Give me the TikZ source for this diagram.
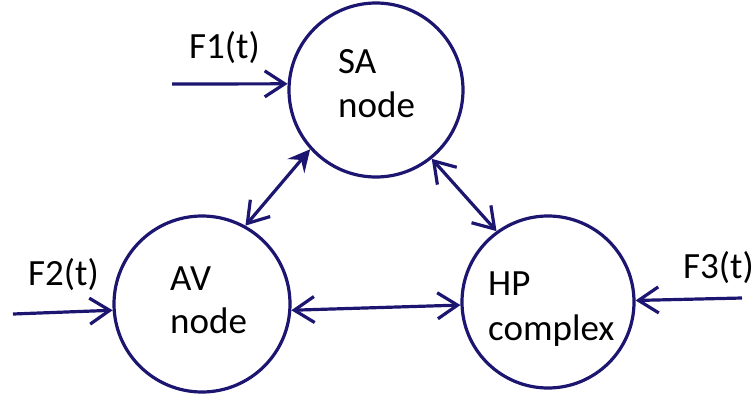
\documentclass[tikz,border=0pt]{standalone}
\usepackage{fontspec}
\setmainfont{Carlito}
\usetikzlibrary{arrows.meta}
\definecolor{navy}{HTML}{1C1670}
\tikzset{
  circ/.style={draw=navy, line width=3.2pt, circle, inner sep=0pt, minimum size=#1},
  lbl/.style={anchor=base west, inner sep=0pt, font=\fontsize{37}{42}\selectfont, text=black},
  conn/.style={draw=navy, line width=3.2pt},
  barb/.tip={Straight Barb[length=20pt, width=26pt, line width=3.2pt]},
  fbarb/.tip={Stealth[length=22pt, width=22pt, inset=8pt]}
}
\begin{document}
\begin{tikzpicture}[x=1pt, y=-1pt]
\useasboundingbox (0,0) rectangle (755,394);
\node[circ=174pt] (sa) at (376,90) {};
\node[circ=176pt] (av) at (202,304) {};
\node[circ=172pt] (hp) at (548,302) {};

\node[lbl] (t1) at (338,73) {SA};
\node[lbl] (t2) at (338,117) {node};
\node[lbl] (t3) at (170,290) {AV};
\node[lbl] (t4) at (170,333) {node};
\node[lbl] (t5) at (488,295) {HP};
\node[lbl] (t6) at (488,340) {complex};

\node[lbl] (f1) at (189,58) {F1(t)};
\node[lbl] (f2) at (28,285) {F2(t)};
\node[lbl] (f3) at (683,278) {F3(t)};

\coordinate (s1) at (172,84);
\coordinate (s2) at (13,314);
\coordinate (s3) at (742,298);

\draw[conn, -{barb}] (s1) -- (sa.176);
\draw[conn, -{barb}] (s2) -- (av.184);
\draw[conn, -{barb}] (s3) -- (hp.1);

\draw[conn, {barb}-{fbarb}] (av.61) -- (sa.222);
\draw[conn, {barb}-{barb}] (sa.309) -- (hp.126);
\draw[conn, {barb}-{barb}] (av.-4) -- (hp.182);
\end{tikzpicture}
\end{document}
